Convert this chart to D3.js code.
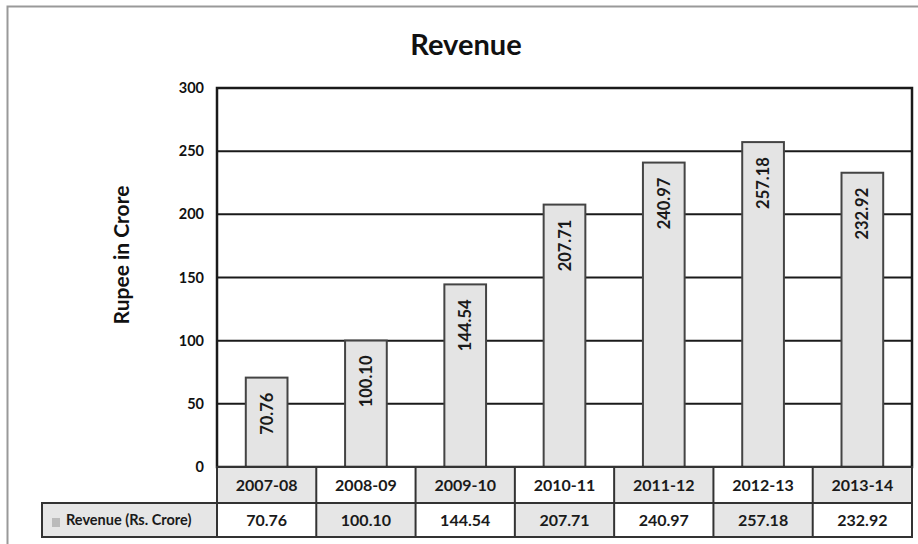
<!DOCTYPE html>
<html><head><meta charset="utf-8">
<script src="https://cdn.jsdelivr.net/npm/d3@7"></script>
<style>body{margin:0;background:#fff}svg{display:block}text{font-family:Lato,"Open Sans",sans-serif}</style>
</head><body><svg id="c" width="918" height="544"></svg>
<script>
const categories = ["2007-08","2008-09","2009-10","2010-11","2011-12","2012-13","2013-14"];
const values = [70.76,100.10,144.54,207.71,240.97,257.18,232.92];
const valueLabels = ["70.76","100.10","144.54","207.71","240.97","257.18","232.92"];
const yTicks = [0,50,100,150,200,250,300];
const seriesName = "Revenue (Rs. Crore)";
const title = "Revenue";
const yTitle = "Rupee in Crore";

const svg = d3.select("#c");
const L=217,R=912,T=88,B=467;
const xCol = d3.scaleBand().domain(categories).range([L,R]).padding(0);
const xBar = d3.scaleBand().domain(categories).range([L,R]).paddingInner(0.58).paddingOuter(0.29);
const y = d3.scaleLinear().domain([0,300]).range([B,T]);

// outer border
svg.append("rect").attr("x",7.5).attr("y",6.5).attr("width",915).attr("height",540).attr("fill","none").attr("stroke","#999").attr("stroke-width",2);

// title
svg.append("text").attr("x",466).attr("y",55).attr("text-anchor","middle").attr("font-size",29).attr("font-weight","bold").attr("fill","#111").text(title);
svg.append("text").attr("transform","translate(129,255) rotate(-90)").attr("text-anchor","middle").attr("font-size",21).attr("font-weight","bold").attr("fill","#111").text(yTitle);

// gridlines
svg.append("g").selectAll("line").data(yTicks.filter(t=>t>0&&t<300)).join("line")
 .attr("x1",L).attr("x2",R).attr("y1",d=>y(d)).attr("y2",d=>y(d)).attr("stroke","#1a1a1a").attr("stroke-width",2);

// y axis labels
const yAxis = d3.axisLeft(y).tickValues(yTicks).tickSize(0).tickPadding(13);
const ga = svg.append("g").attr("transform",`translate(${L},0)`).call(yAxis);
ga.select(".domain").remove();
ga.selectAll("text").attr("font-size",14.5).attr("font-weight","bold").attr("fill","#111").attr("font-family","Lato,'Open Sans',sans-serif");

// bars
svg.append("g").selectAll("rect").data(values).join("rect")
 .attr("x",(d,i)=>xBar(categories[i])).attr("width",xBar.bandwidth())
 .attr("y",d=>y(d)).attr("height",d=>B-y(d))
 .attr("fill","#e4e4e4").attr("stroke","#444").attr("stroke-width",2);

// bar labels
svg.append("g").selectAll("text").data(values).join("text")
 .attr("transform",(d,i)=>`translate(${xBar(categories[i])+xBar.bandwidth()/2},${y(d)+15}) rotate(-90)`)
 .attr("text-anchor","end").attr("dominant-baseline","central").attr("font-size",16.5).attr("font-weight","bold").attr("fill","#1a1a1a").text((d,i)=>valueLabels[i]);

// plot frame
svg.append("rect").attr("x",L).attr("y",T).attr("width",R-L).attr("height",B-T).attr("fill","none").attr("stroke","#1a1a1a").attr("stroke-width",2.5);

// table
const r1=B, r2=503, r3=537;
const tg = svg.append("g");
tg.selectAll("rect.h").data(categories).join("rect").attr("class","h")
 .attr("x",d=>xCol(d)).attr("y",r1).attr("width",xCol.bandwidth()).attr("height",r2-r1)
 .attr("fill",(d,i)=>i%2===0?"#e6e6e6":"#fff");
tg.selectAll("rect.v").data(categories).join("rect").attr("class","v")
 .attr("x",d=>xCol(d)).attr("y",r2).attr("width",xCol.bandwidth()).attr("height",r3-r2)
 .attr("fill",(d,i)=>i%2===1?"#e6e6e6":"#fff");
tg.append("rect").attr("x",42).attr("y",r2).attr("width",L-42).attr("height",r3-r2).attr("fill","#e6e6e6");
tg.append("rect").attr("x",L).attr("y",r1).attr("width",R-L).attr("height",r3-r1).attr("fill","none").attr("stroke","#333").attr("stroke-width",2);
tg.append("rect").attr("x",42).attr("y",r2).attr("width",R-42).attr("height",r3-r2).attr("fill","none").attr("stroke","#333").attr("stroke-width",2);
tg.selectAll("line.c").data(categories.slice(1)).join("line").attr("class","c")
 .attr("x1",d=>xCol(d)).attr("x2",d=>xCol(d)).attr("y1",r1).attr("y2",r3).attr("stroke","#333").attr("stroke-width",2);
tg.selectAll("text.h").data(categories).join("text").attr("class","h")
 .attr("x",d=>xCol(d)+xCol.bandwidth()/2).attr("y",(r1+r2)/2+6).attr("text-anchor","middle").attr("font-size",16).attr("font-weight","bold").attr("fill","#1a1a1a").text(d=>d);
tg.selectAll("text.v").data(valueLabels).join("text").attr("class","v")
 .attr("x",(d,i)=>xCol(categories[i])+xCol.bandwidth()/2).attr("y",(r2+r3)/2+6).attr("text-anchor","middle").attr("font-size",16).attr("font-weight","bold").attr("fill","#1a1a1a").text(d=>d);
// legend key
tg.append("rect").attr("x",52).attr("y",518).attr("width",8).attr("height",9).attr("fill","#bbb");
tg.append("text").attr("x",66).attr("y",(r2+r3)/2+5).attr("font-size",14.5).attr("font-weight","bold").attr("fill","#1a1a1a").text(seriesName);
</script></body></html>
